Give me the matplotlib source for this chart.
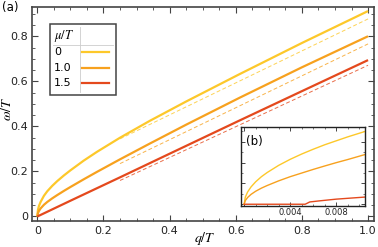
import matplotlib
matplotlib.use('Agg')
import matplotlib.pyplot as plt
from matplotlib.ticker import MultipleLocator, FuncFormatter
from matplotlib.lines import Line2D
from matplotlib.patches import Rectangle

plt.rcParams['mathtext.fontset'] = 'stix'
plt.rcParams['font.family'] = 'DejaVu Sans'

# series labels and colours
mu_labels = ['0', '1.0', '1.5']
colors = ['#FDC82A', '#F7A11E', '#E4491D']

# main panel: solid curves (q/T, omega/T)
q_main = [0.0, 0.002, 0.005, 0.01, 0.02, 0.03, 0.045, 0.06, 0.08, 0.1, 0.14, 0.18,
          0.25, 0.34, 0.45, 0.612, 0.8, 1.0]
w_mu0 = [0.0, 0.03, 0.047, 0.065, 0.092, 0.112, 0.136, 0.157, 0.182, 0.205, 0.248, 0.287,
         0.350, 0.425, 0.511, 0.633, 0.771, 0.913]
w_mu1 = [0.0, 0.015, 0.025, 0.036, 0.052, 0.0645, 0.0805, 0.095, 0.1134, 0.131, 0.165, 0.198,
         0.254, 0.324, 0.408, 0.528, 0.663, 0.801]
q_red = [0.0, 0.1, 0.25, 0.4, 0.612, 0.8, 1.0]
w_mu15 = [0.0, 0.07, 0.174, 0.279, 0.427, 0.557, 0.695]

# dashed asymptotes (start and end points)
q_dash = [0.25, 1.0]
d_mu0 = [0.345, 0.878]
d_mu1 = [0.235, 0.767]
d_mu15 = [0.16, 0.672]

# inset (b): small-q behaviour
q_in = [0.0, 0.0001, 0.0003, 0.0006, 0.001, 0.0015, 0.002, 0.003, 0.004, 0.005,
        0.006, 0.007, 0.008, 0.009, 0.0105]
i_mu0 = [0.0, 0.0068, 0.0118, 0.0167, 0.0216, 0.0265, 0.0305, 0.0374, 0.0432, 0.0483,
         0.0529, 0.0572, 0.061, 0.0648, 0.070]
i_mu1 = [0.0, 0.0035, 0.0065, 0.0095, 0.0125, 0.0155, 0.018, 0.0225, 0.0265, 0.030,
         0.0335, 0.0368, 0.040, 0.043, 0.0478]
q_in15 = [0.0, 0.002, 0.004, 0.0053, 0.0057, 0.0065, 0.008, 0.0105]
i_mu15 = [0.0, 0.0, 0.0, 0.0, 0.0022, 0.0032, 0.0049, 0.0069]

W, H = 378, 247
fig = plt.figure(figsize=(W/100, H/100), dpi=100)
ax = fig.add_axes([31.7/W, 1-220.7/H, (374-31.7)/W, (220.7-7)/H])

spine_c = '#444444'
ax.plot(q_main, w_mu0, color=colors[0], lw=1.6, solid_capstyle='butt', solid_joinstyle='round')
ax.plot(q_main, w_mu1, color=colors[1], lw=1.6, solid_capstyle='butt', solid_joinstyle='round')
ax.plot(q_red, w_mu15, color=colors[2], lw=1.6, solid_capstyle='butt', solid_joinstyle='round')
for d, c in zip([d_mu0, d_mu1, d_mu15], colors):
    ax.plot(q_dash, d, color=c, lw=0.7, ls=(0, (4, 2.5)), alpha=0.8)

ax.set_xlim(-0.017, 1.018)
ax.set_ylim(-0.0187, 0.931)
fmt = FuncFormatter(lambda v, p: '0' if abs(v) < 1e-9 else '%.1f' % v)
ax.xaxis.set_major_locator(MultipleLocator(0.2))
ax.xaxis.set_minor_locator(MultipleLocator(0.05))
ax.yaxis.set_major_locator(MultipleLocator(0.2))
ax.yaxis.set_minor_locator(MultipleLocator(0.05))
ax.xaxis.set_major_formatter(fmt)
ax.yaxis.set_major_formatter(fmt)
ax.tick_params(which='both', direction='in', top=True, right=True, color=spine_c,
               labelsize=8, labelcolor='#222222')
ax.tick_params(axis='y', pad=2.5)
ax.tick_params(which='major', length=4, width=0.8)
ax.tick_params(which='minor', length=2, width=0.6)
for s in ax.spines.values():
    s.set_color(spine_c)
    s.set_linewidth(1.2)
fig.text(205/W, 1-238/H, '$q/T$', fontsize=10, va='center', ha='center')
fig.text(7/W, 1-109/H, '$\\omega/T$', fontsize=10, va='center', ha='center', rotation=90)
fig.text(2/W, 1-8/H, '(a)', fontsize=8.5, va='center', ha='left')

# legend drawn as a small table
lx0, lx1, ly0, ly1 = 50, 116, 24.5, 95
fig.patches.append(Rectangle((lx0/W, 1-ly1/H), (lx1-lx0)/W, (ly1-ly0)/H,
                             transform=fig.transFigure, fill=True, fc='white',
                             ec=spine_c, lw=1.1, zorder=5))
fig.lines.append(Line2D([80/W, 80/W], [1-(ly0+3)/H, 1-(ly1-3)/H],
                        transform=fig.transFigure, color='#cccccc', lw=0.6, zorder=6))
fig.lines.append(Line2D([(lx0+3)/W, (lx1-3)/W], [1-45/H, 1-45/H],
                        transform=fig.transFigure, color='#cccccc', lw=0.6, zorder=6))
fig.text(54/W, 1-36.5/H, '$\\mu/T$', fontsize=9, va='center', ha='left', zorder=7)
rows_y = [51.7, 67.7, 82.7]
for lab, c, yy in zip(mu_labels, colors, rows_y):
    fig.text(54/W, 1-yy/H, lab, fontsize=8, va='center', ha='left', zorder=7)
    fig.lines.append(Line2D([82/W, 108.5/W], [1-yy/H, 1-yy/H], transform=fig.transFigure,
                            color=c, lw=1.6, zorder=7))

# inset (b)
axi = fig.add_axes([240.7/W, 1-205.8/H, (365-240.7)/W, (205.8-127.3)/H])
axi.plot(q_in, i_mu0, color=colors[0], lw=1.0)
axi.plot(q_in, i_mu1, color=colors[1], lw=1.0)
axi.plot(q_in15, i_mu15, color=colors[2], lw=1.0)
axi.set_xlim(-0.0003, 0.0105)
axi.set_ylim(-0.0015, 0.074)
axi.xaxis.set_major_locator(MultipleLocator(0.004))
axi.xaxis.set_minor_locator(MultipleLocator(0.001))
axi.yaxis.set_major_locator(MultipleLocator(0.02))
axi.yaxis.set_minor_locator(MultipleLocator(0.01))
axi.xaxis.set_major_formatter(FuncFormatter(lambda v, p: '' if abs(v) < 1e-9 else '%.3f' % v))
axi.yaxis.set_major_formatter(FuncFormatter(lambda v, p: ''))
axi.tick_params(which='both', direction='in', top=True, right=True, color=spine_c,
                labelsize=6, labelcolor='#222222', pad=1.5)
axi.tick_params(which='major', length=3, width=0.7)
axi.tick_params(which='minor', length=1.5, width=0.5)
for s in axi.spines.values():
    s.set_color('#222222')
    s.set_linewidth(1.0)
axi.text(0.04, 0.9, '(b)', transform=axi.transAxes, fontsize=8.5, va='top', ha='left')

fig.savefig('out.png', dpi=100)
